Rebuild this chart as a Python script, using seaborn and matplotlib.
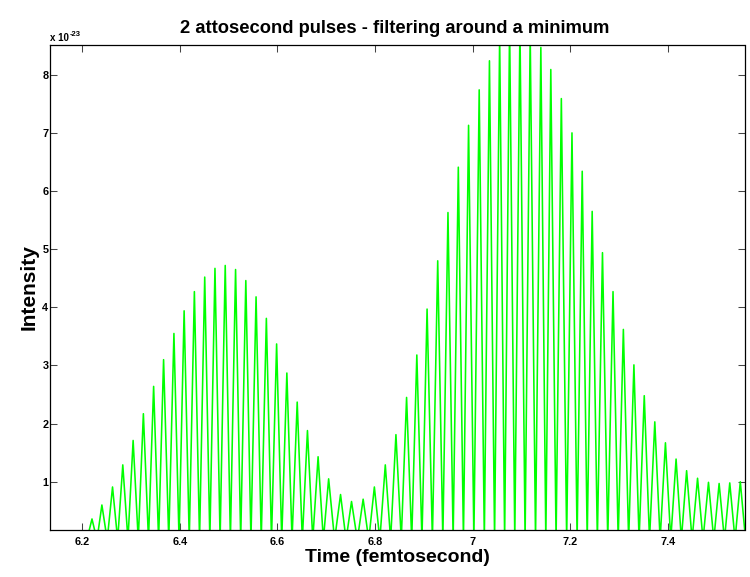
import matplotlib
matplotlib.use("Agg")
import matplotlib.pyplot as plt
import pandas as pd
import seaborn as sns

# ---------------- data ----------------
peak_time = [
    6.2200, 6.2403, 6.2621, 6.2831, 6.3043, 6.3253, 6.3463, 6.3667, 6.3879, 6.4088,
    6.4298, 6.4510, 6.4720, 6.4930, 6.5142, 6.5352, 6.5562, 6.5773, 6.5983, 6.6193,
    6.6405, 6.6615, 6.6833, 6.7049, 6.7293, 6.7518, 6.7756, 6.7986, 6.8210, 6.8428,
    6.8646, 6.8856, 6.9066, 6.9284, 6.9494, 6.9706, 6.9916, 7.0134, 7.0344, 7.0553,
    7.0757, 7.0969, 7.1179, 7.1397, 7.1601, 7.1817, 7.2035, 7.2245, 7.2449, 7.2660,
    7.2876, 7.3088, 7.3304, 7.3516, 7.3732, 7.3950, 7.4168, 7.4384, 7.4608, 7.4832,
    7.5050, 7.5268, 7.5484,
]
peak_intensity = [
    0.36, 0.60, 0.91, 1.29, 1.71, 2.17, 2.64, 3.10, 3.55, 3.94,
    4.27, 4.52, 4.67, 4.72, 4.65, 4.46, 4.18, 3.81, 3.37, 2.87,
    2.37, 1.88, 1.43, 1.05, 0.78, 0.66, 0.70, 0.91, 1.29, 1.81,
    2.45, 3.18, 3.97, 4.80, 5.63, 6.41, 7.13, 7.74, 8.24, 8.65,
    8.85, 8.85, 8.70, 8.47, 8.09, 7.59, 7.00, 6.34, 5.65, 4.94,
    4.27, 3.62, 3.01, 2.48, 2.03, 1.67, 1.39, 1.19, 1.06, 0.99,
    0.97, 0.98, 1.00,
]
trough_time = [
    6.2095, 6.2302, 6.2512, 6.2726, 6.2937, 6.3148, 6.3358, 6.3565, 6.3773, 6.3984,
    6.4193, 6.4404, 6.4615, 6.4825, 6.5036, 6.5247, 6.5457, 6.5668, 6.5878, 6.6088,
    6.6299, 6.6510, 6.6724, 6.6941, 6.7171, 6.7406, 6.7637, 6.7871, 6.8098, 6.8319,
    6.8537, 6.8751, 6.8961, 6.9175, 6.9389, 6.9600, 6.9811, 7.0025, 7.0239, 7.0449,
    7.0655, 7.0863, 7.1074, 7.1288, 7.1499, 7.1709, 7.1926, 7.2140, 7.2347, 7.2555,
    7.2768, 7.2982, 7.3196, 7.3410, 7.3624, 7.3841, 7.4059, 7.4276, 7.4496, 7.4720,
    7.4941, 7.5159, 7.5376, 7.5592,
]
trough_intensity = 0.0
start_time = 6.2

x_ticks = [6.2, 6.4, 6.6, 6.8, 7.0, 7.2, 7.4]
x_tick_labels = ["6.2", "6.4", "6.6", "6.8", "7", "7.2", "7.4"]
y_ticks = [1, 2, 3, 4, 5, 6, 7, 8]
y_tick_labels = ["1", "2", "3", "4", "5", "6", "7", "8"]

title = "2 attosecond pulses - filtering around a minimum"
x_label = "Time (femtosecond)"
y_label = "Intensity"

# ---------------- build the line (trough / peak sequence) ----------------
t_vals = [start_time]
i_vals = [trough_intensity]
for k in range(len(peak_time)):
    t_vals += [trough_time[k], peak_time[k]]
    i_vals += [trough_intensity, peak_intensity[k]]
t_vals.append(trough_time[-1])
i_vals.append(trough_intensity)
df = pd.DataFrame({"Time": t_vals, "Intensity": i_vals})

# ---------------- plot ----------------
sns.set_theme(style="white")
plt.rcParams['font.family'] = ['Liberation Sans', 'DejaVu Sans']
plt.rcParams['text.color'] = 'black'
plt.rcParams['axes.labelcolor'] = 'black'

fig = plt.figure(figsize=(7.5, 5.77), dpi=100)
ax = fig.add_axes([50.5 / 750, 1 - 530 / 577, 694 / 750, 485.5 / 577])

sns.lineplot(data=df, x="Time", y="Intensity", ax=ax, color="#00ff00",
             linewidth=1.15, sort=False, estimator=None)

ax.set_xlim(6.135, 7.557)
ax.set_ylim(0.17, 8.52)

ax.set_xticks(x_ticks)
ax.set_xticklabels(x_tick_labels)
ax.set_yticks(y_ticks)
ax.set_yticklabels(y_tick_labels)
ax.tick_params(axis='both', direction='in', length=5, width=0.75,
               color='#444444', labelcolor='black', labelsize=7.8,
               top=True, right=True, bottom=True, left=True)
ax.tick_params(axis='x', pad=5)
ax.tick_params(axis='y', pad=1.5)
for lbl in ax.get_xticklabels() + ax.get_yticklabels():
    lbl.set_fontweight('bold')

for sp in ax.spines.values():
    sp.set_color('black')
    sp.set_linewidth(0.9)

ax.set_xlabel(x_label, fontsize=14, fontweight='bold', color='black')
ax.set_ylabel(y_label, fontsize=15, fontweight='bold', color='black')
ax.xaxis.set_label_coords(0.5, -0.040)
ax.yaxis.set_label_coords(-0.017, 0.5)

fig.text(395 / 750, 1 - 33.3 / 577, title, ha='center', va='baseline',
         fontsize=13.2, fontweight='bold', color='black')
fig.text(50 / 750, 1 - 40.7 / 577, "x 10", ha='left', va='baseline',
         fontsize=7, fontweight='bold', color='black')
fig.text(70 / 750, 1 - 35.5 / 577, "-23", ha='left', va='baseline',
         fontsize=5.5, fontweight='bold', color='black')

fig.savefig("out.png", dpi=100)
